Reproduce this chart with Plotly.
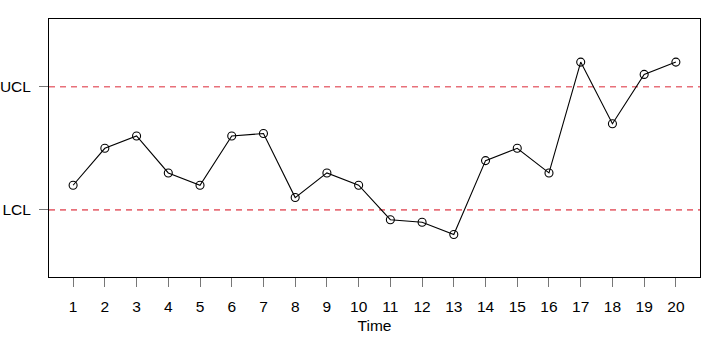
import plotly.graph_objects as go

time = list(range(1, 21))
values = [2, 5, 6, 3, 2, 6, 6.2, 1, 3, 2, -0.8, -1, -2, 4, 5, 3, 12, 7, 11, 12]
ucl = 10
lcl = 0
y_tick_vals = [lcl, ucl]
y_tick_text = ["LCL", "UCL"]

fig = go.Figure()
for lim in (ucl, lcl):
    fig.add_trace(go.Scatter(
        x=[0.24, 20.76], y=[lim, lim], mode="lines",
        line=dict(color="#E8707A", width=1.6, dash="6px,5px"),
        hoverinfo="skip", showlegend=False))

fig.add_trace(go.Scatter(
    x=time, y=values, mode="lines+markers",
    line=dict(color="black", width=1.1),
    marker=dict(symbol="circle-open", size=8, color="black", line=dict(width=1.1)),
    showlegend=False))

font = dict(family="Liberation Sans, Arial, sans-serif", size=15.5, color="black")
fig.update_layout(
    width=706, height=344,
    margin=dict(l=49, r=6, t=19, b=67),
    paper_bgcolor="white", plot_bgcolor="white",
    font=font,
    showlegend=False,
)
fig.update_xaxes(
    range=[0.24, 20.76], tickmode="array", tickvals=time,
    ticktext=[str(t) for t in time],
    ticks="outside", ticklen=9, tickcolor="#777", tickwidth=1,
    ticklabelstandoff=6, automargin=False,
    showgrid=False, zeroline=False,
    showline=True, linecolor="black", linewidth=1, mirror=True,
    title=dict(text="Time", standoff=6, font=font),
)
fig.update_yaxes(
    range=[-5.45, 15.5], tickmode="array", tickvals=y_tick_vals,
    ticktext=y_tick_text,
    ticks="outside", ticklen=9, tickcolor="#777", tickwidth=1,
    ticklabelstandoff=5, automargin=False,
    showgrid=False, zeroline=False,
    showline=True, linecolor="black", linewidth=1, mirror=True,
)
fig.write_html("out.html")
